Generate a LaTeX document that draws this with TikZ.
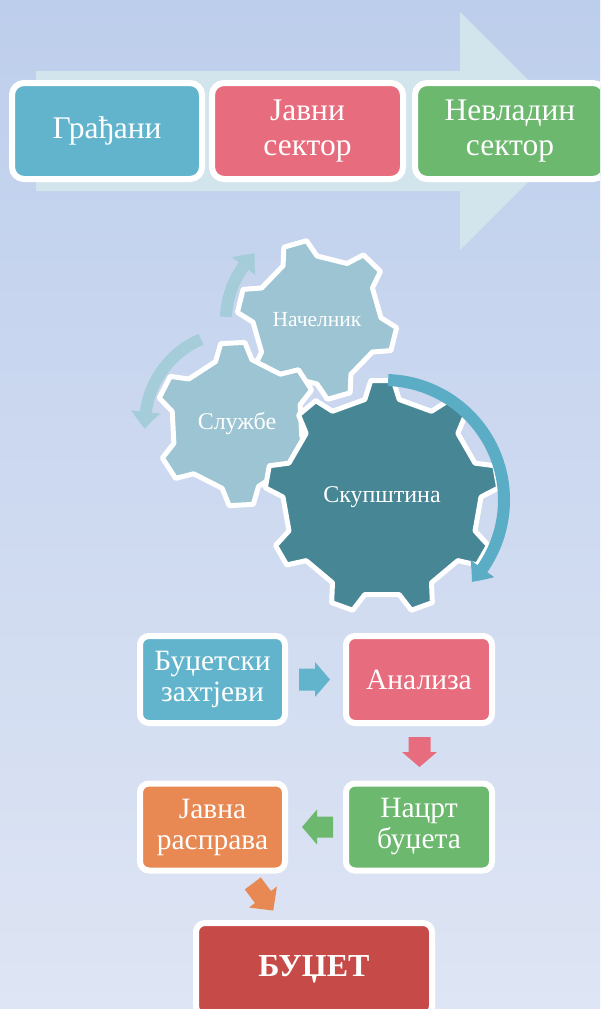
\documentclass[tikz,border=0pt]{standalone}
\usepackage{fontspec}
\setmainfont{Liberation Serif}
\usetikzlibrary{arrows.meta,bending}
\definecolor{bgTop}{HTML}{BDCEEC}
\definecolor{bgBot}{HTML}{DEE5F4}
\definecolor{bigArrow}{HTML}{D3E5EC}
\definecolor{cBlue}{HTML}{61B4CC}
\definecolor{cPink}{HTML}{E76C7D}
\definecolor{cGreen}{HTML}{6BB86E}
\definecolor{cOrange}{HTML}{E88953}
\definecolor{cRed}{HTML}{C64A48}
\definecolor{gearLight}{HTML}{9CC4D2}
\definecolor{gearDark}{HTML}{478695}
\definecolor{arcLight}{HTML}{A4CCD9}
\definecolor{arcTeal}{HTML}{5AADC4}
\newcommand\blkarr[8]{%
  \fill[#8, shift={(#1,#2)}, rotate=#3]
    ({-(#4)/2}, {-(#5)/2}) -- ({(#4)/2-(#7)}, {-(#5)/2}) -- ({(#4)/2-(#7)}, {-(#6)/2})
    -- ({(#4)/2}, 0) -- ({(#4)/2-(#7)}, {(#6)/2}) -- ({(#4)/2-(#7)}, {(#5)/2})
    -- ({-(#4)/2}, {(#5)/2}) -- cycle;}
\begin{document}
\begin{tikzpicture}[x=1pt,y=-1pt,
  topbox/.style={draw=white, line width=6pt, rounded corners=12pt, inner sep=0pt,
    text=white, align=center, font=\fontsize{31.5}{35}\selectfont,
    minimum width=190pt, minimum height=96pt},
  flowbox/.style={draw=white, line width=6pt, rounded corners=9pt, inner sep=0pt,
    text=white, align=center, font=\fontsize{29.5}{31}\selectfont,
    minimum width=145pt, minimum height=87pt},
  gearline/.style={draw=white, line width=5pt, line join=round},
  geartext/.style={text=white, font=\fontsize{24}{28}\selectfont},
  arcarrow/.style={line width=12pt, -{Triangle[width=28pt,length=17pt,bend]}}]
\useasboundingbox (0,0) rectangle (600,1009);
\clip (0,0) rectangle (600,1009);
\shade[top color=bgTop, bottom color=bgBot] (0,0) rectangle (600,1009);

% big background arrow
\fill[bigArrow] (36,71) -- (460,71) -- (460,12) -- (579,131) -- (460,250)
  -- (460,191) -- (36,191) -- cycle;

% top boxes
\node[topbox, fill=cBlue] (gr) at (107,131) {Грађани};
\node[topbox, fill=cPink, minimum width=191pt] (js) at (307.5,131) {Јавни\\сектор};
\node[topbox, fill=cGreen] (ns) at (510,131) {Невладин\\сектор};

% gears
\filldraw[gearline, fill=gearLight, shift={(317,320)}]
  ({-46+16}:64) \foreach \k in {0,...,5} {
    -- ({-46-60*\k+16}:64) -- ({-46-60*\k+8.5}:80)
    -- ({-46-60*\k-8.5}:80) -- ({-46-60*\k-16}:64) } -- cycle;
\filldraw[gearline, fill=gearLight, shift={(237,424)}]
  ({-33+16}:66) \foreach \k in {0,...,5} {
    -- ({-33-60*\k+16}:66) -- ({-33-60*\k+8.5}:82)
    -- ({-33-60*\k-8.5}:82) -- ({-33-60*\k-16}:66) } -- cycle;
\filldraw[gearline, fill=gearDark, shift={(382,497)}]
  ({-90+10}:99) \foreach \k in {0,...,8} {
    -- ({-90-40*\k+10}:99) -- ({-90-40*\k+5.5}:117)
    -- ({-90-40*\k-5.5}:117) -- ({-90-40*\k-10}:99) } -- cycle;

\node[geartext, font=\fontsize{21.5}{25}\selectfont] (nac) at (317,320) {Начелник};
\node[geartext] (slu) at (237,423) {Службе};
\node[geartext] (sku) at (382,497) {Скупштина};

% curved arrows
\draw[arcarrow, arcLight, shift={(317,320)}] (-178:91) arc[start angle=-178, end angle=-133, radius=91];
\draw[arcarrow, arcLight, shift={(237,424)}] (-113:92) arc[start angle=-113, end angle=-183, radius=92];
\draw[arcarrow, arcTeal, shift={(384,500)}] (-88:120) arc[start angle=-88, end angle=43, radius=120];

% flow boxes
\node[flowbox, fill=cBlue] (bz) at (212.5,679.5) {Буџетски\\захтјеви};
\node[flowbox, fill=cPink, minimum width=146pt] (an) at (419,679.5) {Анализа};
\node[flowbox, fill=cGreen, minimum width=146pt] (nb) at (419,827) {Нацрт\\буџета};
\node[flowbox, fill=cOrange] (jr) at (212.5,827) {Јавна\\расправа};
\node[flowbox, fill=cRed, minimum width=236pt, minimum height=92pt,
  font=\bfseries\fontsize{32}{37}\selectfont] (bu) at (314,969) {БУЏЕТ};

% block arrows
\blkarr{314.5}{679.5}{0}{31}{22}{35}{15}{cBlue}
\blkarr{419.5}{752}{-90}{30}{22}{35}{15}{cPink}
\blkarr{317.5}{827}{180}{31}{21}{35}{15}{cGreen}
\blkarr{263}{897}{-53}{34}{20}{35}{17}{cOrange}
\end{tikzpicture}
\end{document}
